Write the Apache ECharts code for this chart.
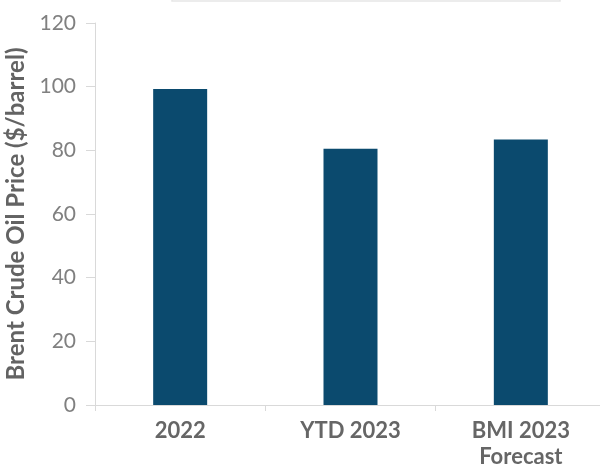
<!DOCTYPE html>
<html><head><meta charset="utf-8">
<script src="https://cdn.jsdelivr.net/npm/echarts@6/dist/echarts.min.js"></script>
<style>html,body{margin:0;padding:0;background:#fff}#c{width:600px;height:466px}</style>
</head><body><div id="c"></div>
<script>
var categories = ['2022', 'YTD 2023', 'BMI 2023\nForecast'];
var prices = [99.3, 80.5, 83.4];
var yTicks = [0, 20, 40, 60, 80, 100, 120];
var yTitle = 'Brent Crude Oil Price ($/barrel)';

var chart = echarts.init(document.getElementById('c'), null, {renderer: 'canvas'});
chart.setOption({
  animation: false,
  backgroundColor: '#ffffff',
  textStyle: {fontFamily: 'Lato'},
  grid: {left: 95, right: -6, top: 23, bottom: 61, containLabel: false, outerBoundsMode: 'none'},
  graphic: [{
    type: 'rect', shape: {x: 172, y: -40, width: 388, height: 41},
    style: {fill: 'none', stroke: '#e6e6e6', lineWidth: 1.5}
  }],
  xAxis: {
    type: 'category', data: categories,
    axisLine: {lineStyle: {color: '#d9d9d9', width: 1}},
    axisTick: {show: true, length: 6, lineStyle: {color: '#d9d9d9'}},
    axisLabel: {color: '#666666', fontWeight: 'bold', fontSize: 22, margin: 13, lineHeight: 26, fontFamily: 'Lato'}
  },
  yAxis: {
    type: 'value', min: yTicks[0], max: yTicks[yTicks.length - 1], interval: 20,
    name: yTitle, nameLocation: 'middle', nameGap: 64, nameRotate: 90,
    nameTextStyle: {color: '#636363', fontWeight: 'bold', fontSize: 24, fontFamily: 'Lato'},
    axisLine: {show: true, lineStyle: {color: '#d9d9d9', width: 1}},
    axisTick: {show: true, length: 9, lineStyle: {color: '#d9d9d9'}},
    splitLine: {show: false},
    axisLabel: {color: '#808080', fontSize: 21, margin: 19, fontFamily: 'Lato'}
  },
  series: [{
    type: 'bar', data: prices, barWidth: '31.7%',
    itemStyle: {color: '#0b4a6e'}
  }]
});
</script></body></html>
